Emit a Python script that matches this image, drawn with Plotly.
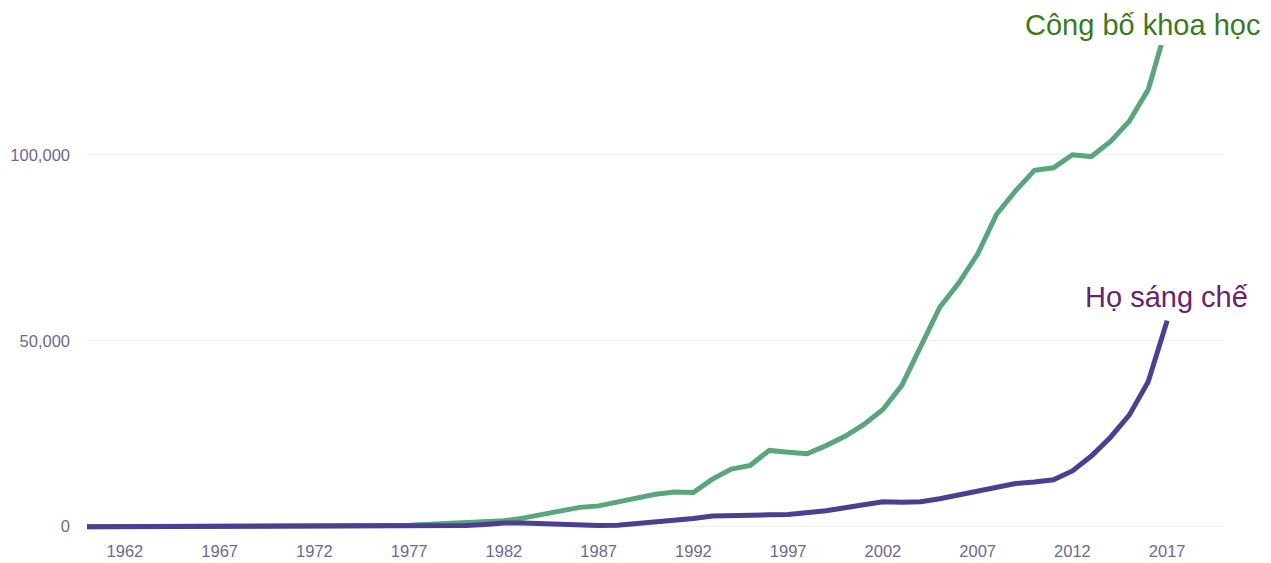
import plotly.graph_objects as go

years = list(range(1960, 2018))

publications = [
    0, 0, 0, 0, 0, 50, 50, 50, 100, 100,
    100, 150, 150, 200, 200, 250, 300, 400, 600, 800,
    1000, 1200, 1600, 2300, 3200, 4000, 5200, 5600, 6600, 7500,
    8700, 9300, 9200, 12800, 15500, 16500, 20500, 20000, 19600, 21800,
    24300, 27500, 31500, 38000, 48500, 59000, 65500, 73300, 84000, 90300,
    95800, 96500, 100000, 99500, 103500, 109000, 117500, 135000,
]

patents = [
    0, 0, 0, 0, 0, 0, 0, 0, 50, 50,
    50, 50, 100, 100, 100, 100, 150, 150, 200, 250,
    300, 600, 1000, 1000, 800, 500, 300, 300, 400, 800,
    1200, 1600, 2200, 2900, 2900, 2900, 3200, 3300, 3700, 4300,
    5100, 5900, 6700, 6600, 6700, 7500, 8600, 9700, 10800, 11600,
    12000, 12600, 15000, 19000, 24000, 30000, 39000, 55400,
]

x_ticks = [1962, 1967, 1972, 1977, 1982, 1987, 1992, 1997, 2002, 2007, 2012, 2017]
y_ticks = [0, 50000, 100000]
y_tick_text = ["0", "50,000", "100,000"]

label_pub = "Công bố khoa học"
label_pat = "Họ sáng chế"

fig = go.Figure()
fig.add_trace(go.Scatter(
    x=years, y=publications, mode="lines", name=label_pub,
    line=dict(color="#5aa67c", width=5), hoverinfo="x+y",
))
fig.add_trace(go.Scatter(
    x=years, y=patents, mode="lines", name=label_pat,
    line=dict(color="#4a3f90", width=5), hoverinfo="x+y",
))

tick_font = dict(family="Liberation Sans, Arial, sans-serif", size=16.5, color="#6c6a92")

# plot area in figure pixels (page body adds an 8px offset)
L, R, T, B = 79, 1216, 37, 528
H = B - T
W = R - L

fig.update_layout(
    width=1271, height=563,
    margin=dict(l=L, r=1271 - R, t=T, b=563 - B),
    paper_bgcolor="white", plot_bgcolor="white",
    showlegend=False,
    xaxis=dict(
        range=[1960, 2020], tickmode="array", tickvals=x_ticks,
        showgrid=False, zeroline=False, showline=False, ticks="",
        tickfont=tick_font, ticklabelstandoff=3, automargin=False,
    ),
    yaxis=dict(
        range=[-2500, 129500], tickmode="array", tickvals=y_ticks, ticktext=y_tick_text,
        showgrid=True, gridcolor="#f0f0f2", gridwidth=1,
        zeroline=False, showline=False, ticks="",
        tickfont=tick_font, ticklabelstandoff=16, automargin=False,
    ),
    annotations=[
        dict(text=label_pub, xref="paper", yref="paper",
             x=(1134 - L) / W, y=1 + (T - 17) / H,
             showarrow=False, xanchor="center", yanchor="middle",
             font=dict(family="Liberation Sans, Arial, sans-serif", size=29, color="#3b7a1c")),
        dict(text=label_pat, xref="paper", yref="paper",
             x=(1158 - L) / W, y=(B - 289) / H,
             showarrow=False, xanchor="center", yanchor="middle",
             font=dict(family="Liberation Sans, Arial, sans-serif", size=29, color="#6a2172")),
    ],
)

fig.write_html("out.html")
